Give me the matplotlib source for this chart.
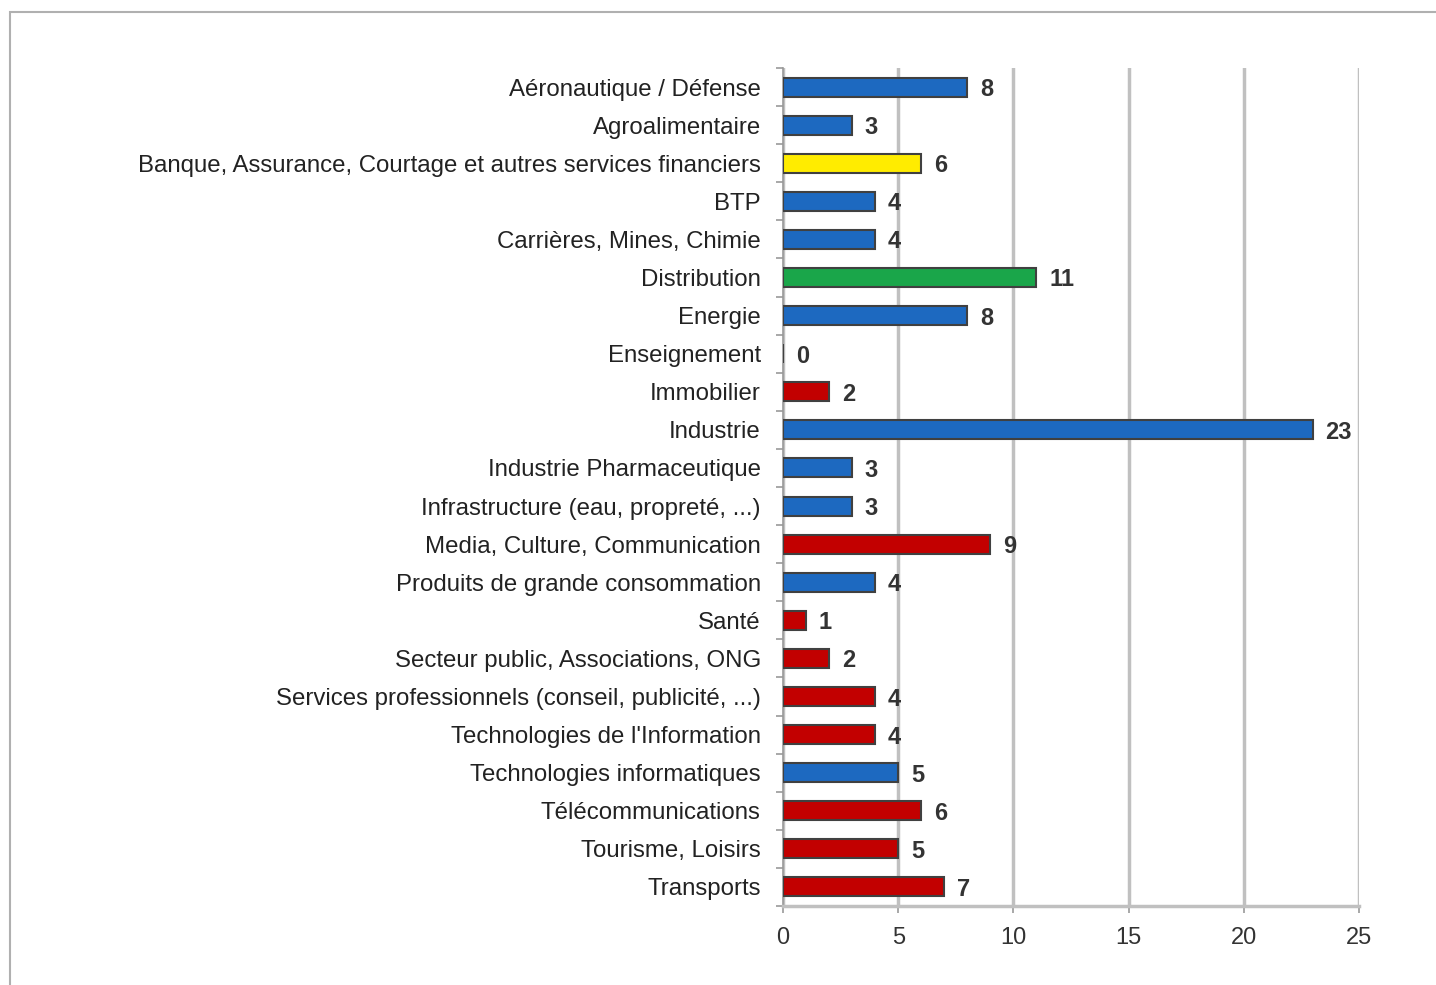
import matplotlib.pyplot as plt
from matplotlib.patches import Rectangle
import numpy as np

plt.rcParams['font.family'] = ['Liberation Sans', 'DejaVu Sans']

sectors = [
    "Aéronautique / Défense", "Agroalimentaire",
    "Banque, Assurance, Courtage et autres services financiers", "BTP",
    "Carrières, Mines, Chimie", "Distribution", "Energie", "Enseignement",
    "Immobilier", "Industrie", "Industrie Pharmaceutique",
    "Infrastructure (eau, propreté, ...)", "Media, Culture, Communication",
    "Produits de grande consommation", "Santé",
    "Secteur public, Associations, ONG",
    "Services professionnels (conseil, publicité, ...)",
    "Technologies de l'Information", "Technologies informatiques",
    "Télécommunications", "Tourisme, Loisirs", "Transports",
]
counts = [8, 3, 6, 4, 4, 11, 8, 0, 2, 23, 3, 3, 9, 4, 1, 2, 4, 4, 5, 6, 5, 7]
groups = ["b", "b", "y", "b", "b", "g", "b", "b", "r", "b", "b", "b", "r", "b",
          "r", "r", "r", "r", "b", "r", "r", "r"]
palette = {"b": "#1d69c0", "y": "#ffec00", "g": "#1aa64a", "r": "#c20000"}
xticks = [0, 5, 10, 15, 20, 25]

fig = plt.figure(figsize=(14.36, 9.85), dpi=100)
ax = fig.add_axes([783 / 1436, 1 - 906 / 985, 576 / 1436, 838 / 985])

# page frame (only top and left edges visible)
fig.patches.append(Rectangle((10 / 1436, -0.1), 1.2, 1.1 - 12 / 985,
                             transform=fig.transFigure, fill=False,
                             edgecolor="#b0b0b0", linewidth=1.5))

y = np.arange(len(sectors))
ax.barh(y, counts, height=0.5, color=[palette[g] for g in groups],
        edgecolor="#404040", linewidth=1.5, zorder=3)

for yi, v in zip(y, counts):
    ax.text(v + 0.55, yi, str(v), va="center_baseline", ha="left", fontsize=17,
            fontweight="bold", color="#333333", zorder=4)

ax.set_xlim(0, 25)
ax.set_ylim(len(sectors) - 0.5, -0.5)
ax.set_xticks(xticks)
ax.set_yticks(y)
ax.set_yticklabels(sectors)
ax.set_yticks(np.arange(len(sectors) + 1) - 0.5, minor=True)

ax.tick_params(axis="y", which="major", length=0, pad=16, labelsize=17.3,
               labelcolor="#222222")
ax.tick_params(axis="y", which="minor", length=5, width=1.2, color="#999999")
ax.tick_params(axis="x", length=5, width=1.2, color="#999999", pad=10,
               labelsize=17, labelcolor="#333333")

ax.grid(axis="x", color="#c0c0c0", linewidth=2.5, zorder=0)
for s in ["top", "right"]:
    ax.spines[s].set_visible(False)
ax.spines["left"].set_color("#999999")
ax.spines["left"].set_linewidth(1.2)
ax.spines["bottom"].set_color("#c0c0c0")
ax.spines["bottom"].set_linewidth(2.5)

plt.savefig("out.png", dpi=100)
